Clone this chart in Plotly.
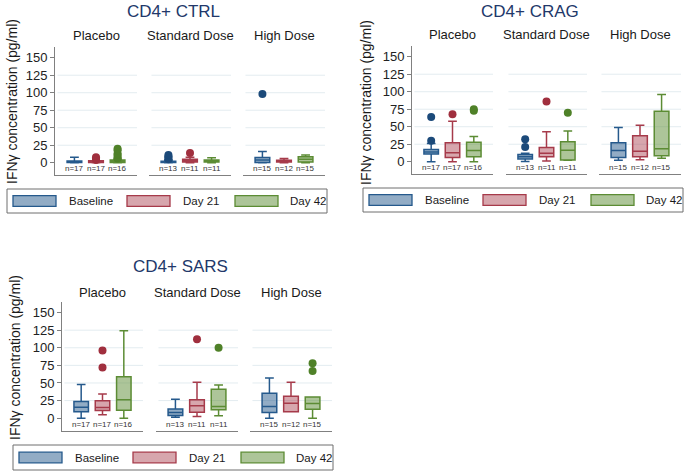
import plotly.graph_objects as go

# ---------------- data ----------------
DOSES = ["Placebo", "Standard Dose", "High Dose"]
TIMEPOINTS = ["Baseline", "Day 21", "Day 42"]
PANEL_TITLES = ["CD4+ CTRL", "CD4+ CRAG", "CD4+ SARS"]
Y_TITLE = "IFNγ concentration (pg/ml)"
Y_TICKS = [0, 25, 50, 75, 100, 125, 150]

# n per dose (rows) x timepoint (cols)
N = [[17, 17, 16], [13, 11, 11], [15, 12, 15]]

# CD4+ CTRL  (rows: Placebo, Standard, High ; cols: Baseline, Day 21, Day 42)
CTRL_Q1 = [[0.5, 0.5, 0.5], [0.5, 1, 1], [0.5, 1, 1]]
CTRL_MED = [[1.5, 1.5, 1.5], [1, 3, 3], [4, 2, 5]]
CTRL_Q3 = [[2.5, 3, 4], [2, 5, 4], [7.5, 3.5, 8.5]]
CTRL_LO = [[0, 0, 0], [0, 0, 0], [0, 0, 0]]
CTRL_HI = [[8, 3, 5], [4, 8, 7], [16, 6, 11]]
CTRL_OUT = [[[], [4, 6, 8], [6, 8, 11, 13, 18, 20]],
            [[5, 7, 9, 11], [14], []],
            [[98], [], []]]

# CD4+ CRAG
CRAG_Q1 = [[11, 6, 7], [4, 7, 2.5], [6, 7, 8.5]]
CRAG_MED = [[14, 13, 16], [7, 12, 16.5], [16, 15, 18.5]]
CRAG_Q3 = [[17.5, 27, 28], [10.5, 20.5, 28.5], [27, 37, 72]]
CRAG_LO = [[0, 0, 0], [0.5, 1, 2], [2, 3, 5]]
CRAG_HI = [[26, 58, 36], [12, 43, 44], [49, 52, 96]]
CRAG_OUT = [[[30, 64], [68], [73, 75]],
            [[21, 32], [86], [70]],
            [[], [], []]]

# CD4+ SARS
SARS_Q1 = [[9, 11, 11.3], [3.7, 8.5, 11.8], [8, 9, 12.8]]
SARS_MED = [[15.5, 15, 26], [8, 17.5, 16.5], [16.5, 21.3, 21]]
SARS_Q3 = [[23.6, 24.6, 58.7], [13, 26, 41], [35.5, 31, 30]]
SARS_LO = [[0, 4.7, 0], [1.4, 2.3, 3.3], [0, 9, 0]]
SARS_HI = [[48, 34.5, 124], [27, 51, 47], [57, 51, 30]]
SARS_OUT = [[[], [72, 96], []],
            [[], [112], [100]],
            [[], [], [67, 78]]]

PANEL_DATA = [
    (CTRL_Q1, CTRL_MED, CTRL_Q3, CTRL_LO, CTRL_HI, CTRL_OUT),
    (CRAG_Q1, CRAG_MED, CRAG_Q3, CRAG_LO, CRAG_HI, CRAG_OUT),
    (SARS_Q1, SARS_MED, SARS_Q3, SARS_LO, SARS_HI, SARS_OUT),
]

# ---------------- styling / geometry ----------------
W, H = 685, 471
FONT = "Liberation Sans, Arial, sans-serif"
LINE_COLORS = ["#25598c", "#a63a4a", "#5c8c34"]
FILL_COLORS = ["rgba(37,89,140,0.50)", "rgba(166,58,74,0.45)", "rgba(92,140,52,0.50)"]
MARK_COLORS = ["#1c4a7a", "#a02f3e", "#4f8128"]
AXIS_COLOR = "#808080"
GRID_COLOR = "#e3ecf0"
TITLE_COLOR = "#22386a"
Y_RANGE = [-17.5, 165]
X_RANGE = [-0.9, 2.9]

GEOM = [
    dict(xdom=[(55, 137), (149, 231), (243, 325)], ytop=47.2, ybot=175.0,
         title=(174, 12), ylab=(12, 102), sub_y=36, leg_x=7, leg_y=(189, 213)),
    dict(xdom=[(412, 493), (506, 587), (599, 681)], ytop=46.2, ybot=174.0,
         title=(530, 12), ylab=(366, 102), sub_y=35, leg_x=363, leg_y=(188, 212)),
    dict(xdom=[(62, 143), (156, 238), (250, 332)], ytop=302.0, ybot=430.5,
         title=(180, 266), ylab=(15, 358), sub_y=292, leg_x=13, leg_y=(445, 470)),
]


def px(x):
    return x / W


def py(y):
    return 1 - y / H


def axname(letter, i):
    return letter if i == 1 else f"{letter}{i}"


fig = go.Figure()
layout = dict(
    width=W, height=H, margin=dict(l=0, r=0, t=0, b=0),
    paper_bgcolor="white", plot_bgcolor="white",
    showlegend=False, font=dict(family=FONT, color="#222"),
    boxmode="overlay",
)
annotations = []
shapes = []

for p, g in enumerate(GEOM):
    q1s, meds, q3s, los, his, outs = PANEL_DATA[p]
    yname = axname("y", p + 1)
    ykey = "yaxis" if p == 0 else f"yaxis{p + 1}"
    layout[ykey] = dict(
        domain=[py(g["ybot"]), py(g["ytop"])], anchor=axname("x", p * 3 + 1),
        range=Y_RANGE, tickvals=Y_TICKS, ticks="outside", ticklen=4,
        tickcolor=AXIS_COLOR, showline=True, linecolor=AXIS_COLOR, linewidth=1,
        showgrid=False, zeroline=False, tickfont=dict(size=13, color="#222"),
        fixedrange=True,
    )
    for d in range(3):
        k = p * 3 + d + 1
        xname = axname("x", k)
        xkey = "xaxis" if k == 1 else f"xaxis{k}"
        x0, x1 = g["xdom"][d]
        layout[xkey] = dict(
            domain=[px(x0), px(x1)], anchor=yname, range=X_RANGE,
            showline=True, linecolor=AXIS_COLOR, linewidth=1,
            showticklabels=False, ticks="", showgrid=False, zeroline=False,
            fixedrange=True,
        )
        # grid lines
        for gv in Y_TICKS[1:-1]:
            shapes.append(dict(type="line", xref=f"{xname} domain", yref=yname,
                               x0=0.03, x1=1, y0=gv, y1=gv, layer="below",
                               line=dict(color=GRID_COLOR, width=1)))
        # subplot title
        annotations.append(dict(text=DOSES[d], xref="paper", yref="paper",
                                x=px((x0 + x1) / 2), y=py(g["sub_y"]),
                                showarrow=False, xanchor="center", yanchor="middle",
                                font=dict(size=13, color="#1a1a1a")))
        for t in range(3):
            fig.add_trace(go.Box(
                x=[t], q1=[q1s[d][t]], median=[meds[d][t]], q3=[q3s[d][t]],
                lowerfence=[los[d][t]], upperfence=[his[d][t]],
                xaxis=xname, yaxis=yname, width=0.68, whiskerwidth=0.6,
                line=dict(color=LINE_COLORS[t], width=1.5),
                fillcolor=FILL_COLORS[t], boxpoints=False, hoverinfo="skip",
                name=TIMEPOINTS[t],
            ))
            if outs[d][t]:
                fig.add_trace(go.Scatter(
                    x=[t] * len(outs[d][t]), y=outs[d][t], mode="markers",
                    xaxis=xname, yaxis=yname, hoverinfo="skip",
                    marker=dict(size=8, color=MARK_COLORS[t], line=dict(width=0)),
                ))
            annotations.append(dict(text=f"n={N[d][t]}", xref=xname, yref=yname,
                                    x=t, y=-8.5, showarrow=False,
                                    xanchor="center", yanchor="middle",
                                    font=dict(size=8, color="#333")))
    # panel title
    annotations.append(dict(text=PANEL_TITLES[p], xref="paper", yref="paper",
                            x=px(g["title"][0]), y=py(g["title"][1]),
                            showarrow=False, xanchor="center", yanchor="middle",
                            font=dict(size=17, color=TITLE_COLOR)))
    # y title
    annotations.append(dict(text=Y_TITLE, xref="paper", yref="paper",
                            x=px(g["ylab"][0]), y=py(g["ylab"][1]), textangle=-90,
                            showarrow=False, xanchor="center", yanchor="middle",
                            font=dict(size=14, color="#1a1a1a")))
    # legend frame
    L = g["leg_x"]
    ly0, ly1 = g["leg_y"]
    shapes.append(dict(type="rect", xref="paper", yref="paper",
                       x0=px(L), x1=px(L + 320), y0=py(ly1), y1=py(ly0),
                       line=dict(color="#6e6e6e", width=1), fillcolor="white"))
    ymid = (ly0 + ly1) / 2
    for t, (sx, tx) in enumerate([(6, 60), (120, 174), (228, 281)]):
        shapes.append(dict(type="rect", xref="paper", yref="paper",
                           x0=px(L + sx), x1=px(L + sx + 43),
                           y0=py(ymid + 5.3), y1=py(ymid - 5.3),
                           line=dict(color=LINE_COLORS[t], width=1.3),
                           fillcolor=FILL_COLORS[t]))
        annotations.append(dict(text=TIMEPOINTS[t], xref="paper", yref="paper",
                                x=px(L + tx), y=py(ymid), showarrow=False,
                                xanchor="left", yanchor="middle",
                                font=dict(size=11.5, color="#1a1a1a")))

layout["annotations"] = annotations
layout["shapes"] = shapes
fig.update_layout(**layout)
fig.write_html("out.html")
